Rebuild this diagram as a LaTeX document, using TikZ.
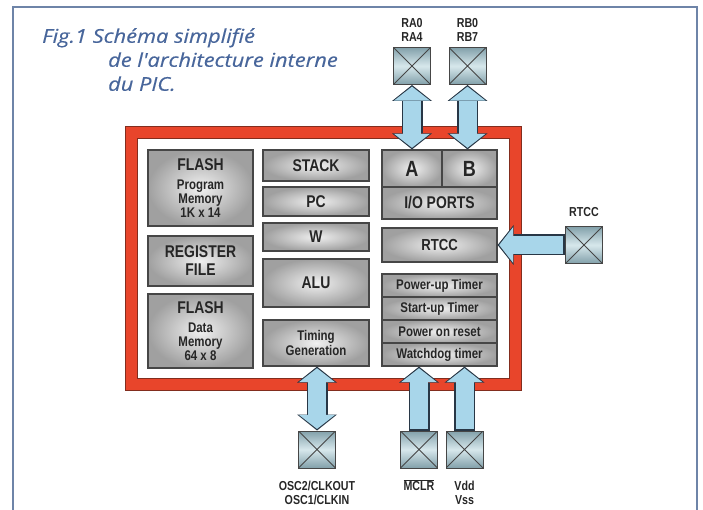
\documentclass[tikz,border=0pt]{standalone}
\usepackage{fontspec}
\usepackage{tikz}
\usetikzlibrary{arrows.meta,positioning}
\newfontfamily\blkfont[FakeStretch=0.82]{Liberation Sans}
\newfontfamily\titlefont[FakeStretch=1.15,FakeBold=0.4]{Open Sans}
\definecolor{figblue}{RGB}{72,102,155}
\definecolor{framebl}{RGB}{110,132,168}
\definecolor{chipred}{RGB}{232,69,43}
\definecolor{chipreddk}{RGB}{130,45,30}
\definecolor{blkline}{RGB}{70,70,70}
\definecolor{blkin}{RGB}{240,240,240}
\definecolor{blkout}{RGB}{160,160,160}
\definecolor{pinin}{RGB}{215,232,236}
\definecolor{pinout}{RGB}{130,160,170}
\definecolor{busfill}{RGB}{168,214,234}
\definecolor{busline}{RGB}{40,55,70}
\newcommand{\subtxt}{\fontsize{14}{14}\selectfont}
\newcommand{\busarrow}[3]{%
  \draw[busedge,#1] #2 -- #3;
  \draw[businner,#1] #2 -- #3;}

\tikzset{
  blk/.style={draw=blkline, line width=1.2pt, inner color=blkin, outer color=blkout,
    text=black!85, align=center, inner sep=0pt,
    font=\blkfont\bfseries\fontsize{17}{18}\selectfont},
  memblk/.style={blk, minimum width=105pt, font=\blkfont\bfseries\fontsize{17}{14}\selectfont},
  tmr/.style={blk, minimum width=115pt, minimum height=23pt,
    font=\blkfont\bfseries\fontsize{14}{14}\selectfont},
  pin/.style={draw=blkline, line width=1pt, minimum size=37pt, inner sep=0pt,
    top color=pinout, bottom color=pinout, middle color=pinin,
    path picture={\draw[blkline, line width=0.8pt]
      (path picture bounding box.north west) -- (path picture bounding box.south east)
      (path picture bounding box.north east) -- (path picture bounding box.south west);}},
  lbl/.style={font=\blkfont\bfseries\fontsize{13}{14}\selectfont, text=black!85,
    align=center, inner sep=0pt},
  busedge/.style={line width=21pt, draw=busline,
    >={Triangle[width=40pt,length=16pt,line width=0pt 0]}},
  businner/.style={line width=18pt, draw=busfill, shorten <=1.6pt, shorten >=1.6pt,
    >={Triangle[width=36pt,length=14pt,line width=0pt 0]}}
}

\begin{document}
\begin{tikzpicture}[x=1pt,y=-1pt]
  \useasboundingbox (0,0) rectangle (703,510);
  % outer frame and title
  \draw[framebl, line width=2.5pt] (13,510) -- (13,7) -- (697,7) -- (697,510);
  \node (title) [anchor=north west, inner sep=0pt, align=left, text=figblue,
    font=\titlefont\itshape\fontsize{19}{24}\selectfont] at (42,28)
    {Fig.1 Schéma simplifié\\\hspace*{66pt}de l'architecture interne\\\hspace*{66pt}du PIC.};

  % chip outline
  \draw[chipreddk, line width=13pt] (131,133) rectangle (515,384);
  \draw[chipred, line width=11pt] (131,133) rectangle (515,384);

  % memory column
  \node[memblk, minimum height=76pt] (flashp) at (200.5,188)
    {FLASH\\[5pt]\subtxt Program\\\subtxt Memory\\\subtxt 1K x 14};
  \node[blk, minimum width=105pt, minimum height=50pt] (regf) at (200.5,261) {REGISTER\\FILE};
  \node[memblk, minimum height=74pt] (flashd) at (200.5,331)
    {FLASH\\[5pt]\subtxt Data\\\subtxt Memory\\\subtxt 64 x 8};

  % core column
  \node[blk, minimum width=106pt, minimum height=31pt] (stack) at (316,165.5) {STACK};
  \node[blk, minimum width=106pt, minimum height=29pt] (pc) at (316,201.5) {PC};
  \node[blk, minimum width=106pt, minimum height=28pt] (w) at (316,237) {W};
  \node[blk, minimum width=106pt, minimum height=48pt] (alu) at (316,283) {ALU};
  \node[blk, minimum width=106pt, minimum height=46pt, font=\blkfont\bfseries\fontsize{14}{15}\selectfont]
    (timing) at (316,343) {Timing\\Generation};

  % peripheral column
  \node[blk, minimum width=60pt, minimum height=37pt, font=\blkfont\bfseries\fontsize{22}{22}\selectfont]
    (portA) at (412,168.5) {A};
  \node[blk, minimum width=55pt, minimum height=37pt, font=\blkfont\bfseries\fontsize{22}{22}\selectfont]
    (portB) at (469.5,168.5) {B};
  \node[blk, minimum width=115pt, minimum height=32pt] (io) at (439.5,203) {I/O PORTS};
  \node[blk, minimum width=115pt, minimum height=34pt, font=\blkfont\bfseries\fontsize{16}{16}\selectfont]
    (rtcc) at (439.5,245) {RTCC};
  \node[tmr] (pwrup) at (439.5,285.5) {Power-up Timer};
  \node[tmr] (startup) at (439.5,308.5) {Start-up Timer};
  \node[tmr] (por) at (439.5,331.5) {Power on reset};
  \node[tmr] (wdt) at (439.5,354.5) {Watchdog timer};

  % pins
  \node[pin] (pinA) at (412,66) {};
  \node[pin] (pinB) at (467.5,66) {};
  \node[pin] (pinT) at (584,245) {};
  \node[pin] (pinO) at (317,449.5) {};
  \node[pin] (pinM) at (419,449.5) {};
  \node[pin] (pinV) at (464.5,449.5) {};

  \node[lbl, above=5pt of pinA] (lblA) {RA0\\RA4};
  \node[lbl, above=5pt of pinB] (lblB) {RB0\\RB7};
  \node[lbl, above=9pt of pinT] (lblT) {RTCC};
  \node[lbl, below=12pt of pinO] (lblO) {OSC2/CLKOUT\\OSC1/CLKIN};
  \node[lbl, below=11pt of pinM] (lblM) {$\overline{\hbox{MCLR}}$};
  \node[lbl, below=12pt of pinV] (lblV) {Vdd\\Vss};

  % buses
  \busarrow{<->}{(pinA)}{(portA)}
  \busarrow{<->}{(pinB.south)}{(pinB.south |- portB.north)}
  \busarrow{->}{(pinT)}{(rtcc)}
  \busarrow{<->}{(pinO.north)}{(pinO.north |- timing.south)}
  \busarrow{->}{(pinM.north)}{(pinM.north |- wdt.south)}
  \busarrow{->}{(pinV.north)}{(pinV.north |- wdt.south)}
\end{tikzpicture}
\end{document}
